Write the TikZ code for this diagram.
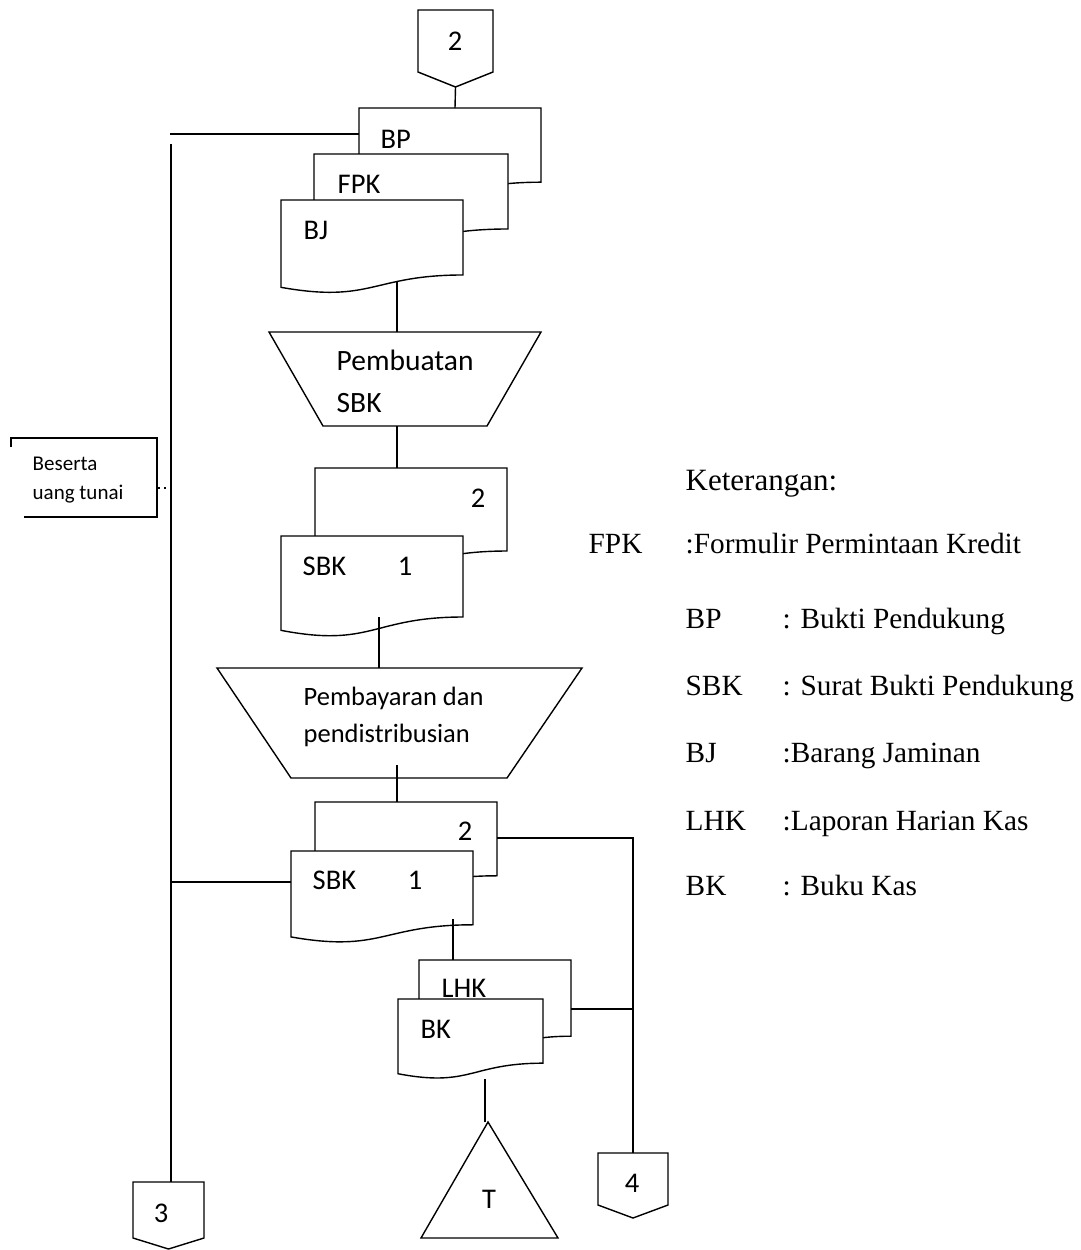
\documentclass[tikz,border=0pt]{standalone}
\usepackage{fontspec}
\setmainfont{Carlito}
\newfontfamily\legfont{Liberation Serif}
\newcommand{\docpath}[5]{%
  \draw[fill=white] (#2,#3) -- ({#2+#4},#3) -- ({#2+#4},{#3+0.802*#5})
    .. controls ({#2+0.5*#4},{#3+0.802*#5}) and ({#2+0.5*#4},{#3+1.1075*#5}) .. (#2,{#3+0.934*#5}) -- cycle;
  \coordinate (#1) at (#2,#3);}
\newcommand{\offpage}[6]{%
  \draw[fill=white] (#2,#4) -- (#3,#4) -- (#3,#5) -- ({(#2+#3)/2},#6) -- (#2,#5) -- cycle;
  \coordinate (#1) at ({(#2+#3)/2},#6);}
\begin{document}
\begin{tikzpicture}[x=1pt,y=-1pt,line width=1.4pt,
  lbl/.style={inner sep=0pt,anchor=base west,font=\fontsize{28.5}{33}\selectfont},
  lblc/.style={inner sep=0pt,anchor=base,font=\fontsize{28.5}{33}\selectfont},
  smalllbl/.style={inner sep=0pt,anchor=base west,font=\fontsize{21}{25}\selectfont},
  leg/.style={inner sep=0pt,anchor=base west,font=\legfont\fontsize{29.3}{35}\selectfont}]
\useasboundingbox (0,0) rectangle (1080,1250);

% top off-page connector 2
\offpage{c2}{418}{493}{10}{72}{87}
\node[lblc] (t2) at (455,50) {2};

% stack 1
\docpath{bp}{359}{108}{182}{92.5}
\docpath{fpk}{314}{154}{194}{93.5}
\docpath{bj}{281}{200}{182}{93.5}
\coordinate (bpTop) at (455,108);
\draw (c2) -- (bpTop);
\node[lbl] (tBP) at (380,148) {BP};
\node[lbl] (tFPK) at (337,193) {FPK};
\node[lbl] (tBJ) at (303,239) {BJ};

% left line
\coordinate (bpLeft) at (359,134);
\coordinate (leftA) at (170,134);
\draw (leftA) -- (bpLeft);
\coordinate (leftTop) at (171,144);
\coordinate (c3top) at (171,1182);
\draw (leftTop) -- (c3top);

% trapezoid 1
\draw (269,332) -- (541,332) -- (487,426) -- (323,426) -- cycle;
\coordinate (tr1T) at (397,332);
\coordinate (tr1B) at (397,426);
\coordinate (bjB) at (397,282);
\draw (bjB) -- (tr1T);
\node[lbl,font=\fontsize{29.5}{33}\selectfont] (tPemb) at (336,370) {Pembuatan};
\node[lbl,font=\fontsize{29.5}{33}\selectfont] (tSBKa) at (336,412) {SBK};

% stack 2
\docpath{sbkb}{315}{468}{192}{103.5}
\docpath{sbkf}{281}{536}{182}{101}
\coordinate (sbkbT) at (397,468);
\draw (tr1B) -- (sbkbT);
\node[lblc] (t2a) at (478,507) {2};
\node[lbl] (tSBKb) at (302,575) {SBK};
\node[lblc] (t1a) at (405,575) {1};

% trapezoid 2
\draw (217,668) -- (582,668) -- (507,778) -- (291,778) -- cycle;
\coordinate (sbkfB) at (379,617);
\coordinate (tr2T) at (379,668);
\draw (sbkfB) -- (tr2T);
\node[lbl,font=\fontsize{26.5}{33}\selectfont] (tPbyr) at (303,705) {Pembayaran dan};
\node[lbl,font=\fontsize{26.5}{33}\selectfont] (tPdis) at (303,742) {pendistribusian};

% stack 3
\docpath{sbk2b}{315}{802}{182}{92}
\docpath{sbk2f}{291}{851}{182}{92}
\coordinate (tr2B) at (397,765);
\coordinate (sbk2bT) at (397,802);
\draw (tr2B) -- (sbk2bT);
\node[lblc] (t2b) at (465,840) {2};
\node[lbl] (tSBKc) at (312,889) {SBK};
\node[lblc] (t1b) at (415,889) {1};
\coordinate (sbk2fL) at (291,882);
\coordinate (leftMid) at (171,882);
\draw (leftMid) -- (sbk2fL);
\coordinate (sbk2bR) at (497,838);
\coordinate (rCorner) at (633,838);
\coordinate (c4top) at (633,1153);
\draw (sbk2bR) -- (rCorner) -- (c4top);

% stack 4
\docpath{lhk}{419}{960}{152}{95}
\docpath{bk}{398}{999}{145}{80}
\coordinate (sbk2fB) at (453,919);
\coordinate (lhkT) at (453,960);
\draw (sbk2fB) -- (lhkT);
\coordinate (lhkR) at (571,1009);
\coordinate (rJoin) at (633,1009);
\draw (lhkR) -- (rJoin);
\node[lbl] (tLHK) at (441,997) {LHK};
\node[lbl] (tBK) at (420,1038) {BK};

% terminator triangle
\draw (488,1122) -- (558,1238) -- (421,1238) -- cycle;
\coordinate (triT) at (488,1122);
\coordinate (bkB) at (485,1079);
\draw (bkB) -- (485,1122);
\node[lblc] (tT) at (489,1208) {T};

% off-page 4 and 3
\offpage{c4}{598}{668}{1153}{1205}{1218}
\node[lblc] (t4) at (632,1192) {4};
\offpage{c3}{133}{204}{1182}{1238}{1249}
\node[lblc] (t3) at (161,1222) {3};

% Beserta annotation
\draw (11,447) -- (11,438) -- (157,438) -- (157,517) -- (24,517);
\node[smalllbl] (tBes) at (32,470) {Beserta};
\node[smalllbl] (tUang) at (32,499) {uang tunai};
\coordinate (besR) at (158,488);
\coordinate (besL) at (171,488);
\draw[line width=2pt,dash pattern=on 2pt off 4pt] (besR) -- (besL);

% legend
\node[leg,font=\legfont\fontsize{31}{35}\selectfont] (kHead) at (685,490) {Keterangan:};
\node[leg] (k1a) at (588,553) {FPK};
\node[leg] (k1b) at (685,553) {:Formulir Permintaan Kredit};
\node[leg] (k2a) at (685,628) {BP};
\node[leg] (k2b) at (782,628) {: Bukti Pendukung};
\node[leg] (k3a) at (685,695) {SBK};
\node[leg] (k3b) at (782,695) {: Surat Bukti Pendukung};
\node[leg] (k4a) at (685,762) {BJ};
\node[leg] (k4b) at (782,762) {:Barang Jaminan};
\node[leg] (k5a) at (685,830) {LHK};
\node[leg] (k5b) at (782,830) {:Laporan Harian Kas};
\node[leg] (k6a) at (685,895) {BK};
\node[leg] (k6b) at (782,895) {: Buku Kas};
\end{tikzpicture}
\end{document}
